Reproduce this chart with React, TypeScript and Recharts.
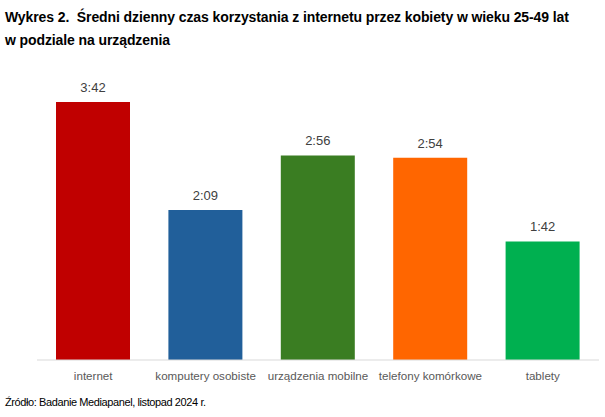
import React from "react";
import { BarChart, Bar, XAxis, YAxis, LabelList, Cell } from "recharts";

const categories = ["internet", "komputery osobiste", "urządzenia mobilne", "telefony komórkowe", "tablety"];
const minutes = [222, 129, 176, 174, 102];
const timeLabels = ["3:42", "2:09", "2:56", "2:54", "1:42"];
const colors = ["#C00000", "#215F9A", "#3A7D22", "#FF6600", "#00B050"];

const data = categories.map((c, i) => ({ name: c, value: minutes[i], label: timeLabels[i] }));

export default function App() {
  return (
    <div style={{ position: "absolute", left: 0, top: 0, width: 605, height: 417, background: "#fff", fontFamily: "'Liberation Sans', Arial, sans-serif" }}>
      <div style={{ position: "absolute", left: 5, top: 6, width: 600, fontWeight: "bold", fontSize: 14, lineHeight: "23px", color: "#000", letterSpacing: -0.1, whiteSpace: "nowrap" }}>
        Wykres 2.&nbsp; Średni dzienny czas korzystania z internetu przez kobiety w wieku 25-49 lat
        <br />w podziale na urządzenia
      </div>
      <div style={{ position: "absolute", left: 0, top: 0 }}>
        <BarChart width={605} height={417} data={data} margin={{ top: 81, right: 6, bottom: 27, left: 37 }}>
          <XAxis
            dataKey="name"
            axisLine={{ stroke: "#D9D9D9" }}
            tickLine={false}
            interval={0}
            height={30}
            tickMargin={6}
            tick={{ fill: "#595959", fontSize: 11.6, fontFamily: "'Liberation Sans', Arial, sans-serif" }}
          />
          <YAxis hide domain={[0, 240]} />
          <Bar dataKey="value" barSize={74} isAnimationActive={false}>
            {data.map((d, i) => (
              <Cell key={d.name} fill={colors[i]} />
            ))}
            <LabelList dataKey="label" position="top" offset={10} fill="#404040" fontSize={13} fontFamily="'Liberation Sans', Arial, sans-serif" />
          </Bar>
        </BarChart>
      </div>
      <div style={{ position: "absolute", left: 5, top: 396, fontSize: 11, color: "#000", letterSpacing: -0.4 }}>
        Źródło: Badanie Mediapanel, listopad 2024 r.
      </div>
    </div>
  );
}
